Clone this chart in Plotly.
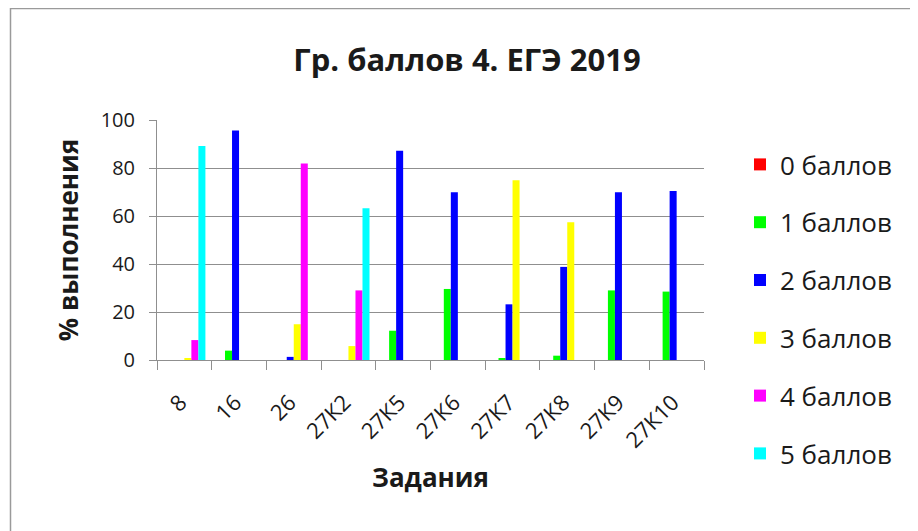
import plotly.graph_objects as go

categories = ["8", "16", "26", "27К2", "27К5", "27К6", "27К7", "27К8", "27К9", "27К10"]
series_names = ["0 баллов", "1 баллов", "2 баллов", "3 баллов", "4 баллов", "5 баллов"]
score0 = [0, 0, 0, 0, 0, 0, 0, 0, 0, 0]
score1 = [0, 3.9, 0, 0, 12.2, 29.6, 0.7, 1.8, 29.0, 28.5]
score2 = [0, 95.6, 1.3, 0, 87.2, 69.9, 23.2, 38.8, 69.9, 70.4]
score3 = [0.7, 0, 14.9, 5.8, 0, 0, 74.9, 57.4, 0, 0]
score4 = [8.3, 0, 81.9, 29.0, 0, 0, 0, 0, 0, 0]
score5 = [89.2, 0, 0, 63.2, 0, 0, 0, 0, 0, 0]
colors = ["#FF0000", "#00FF00", "#0000FF", "#FFFF00", "#FF00FF", "#00FFFF"]
y_ticks = [0, 20, 40, 60, 80, 100]

FONT = "Open Sans"
TXT = "#1a1a1a"
GRID = "#8f8f8f"

fig = go.Figure()
for i, (name, vals) in enumerate(zip(series_names, [score0, score1, score2, score3, score4, score5])):
    fig.add_trace(go.Bar(
        x=categories, y=vals, name=name,
        marker=dict(color=colors[i], line=dict(width=0)),
        legendgroup=f"g{i}",
    ))

# page has an 8px body margin; design coordinates are screen - 8
FW, FH = 910, 523
L, T = 149, 112
W, H = 547, 240
R, B = FW - L - W, FH - T - H

fig.update_layout(
    width=FW, height=FH,
    margin=dict(l=L, r=R, t=T, b=B, pad=0, autoexpand=False),
    paper_bgcolor="white", plot_bgcolor="white",
    barmode="group", bargap=0.23, bargroupgap=0,
    font=dict(family=FONT, color=TXT, size=19),
    title=dict(text="<b>Гр. баллов 4. ЕГЭ 2019</b>", x=(459 - L) / W, xref="paper",
               xanchor="center", y=1 - 52 / FH, yanchor="middle", yref="container",
               font=dict(family=FONT, size=31, color=TXT)),
    showlegend=True,
    legend=dict(x=(732 - L) / W, xanchor="left", y=1 + (T - 133) / H, yanchor="top",
                font=dict(family=FONT, size=26, color=TXT), maxheight=500,
                tracegroupgap=21, itemclick=False, bgcolor="rgba(0,0,0,0)"),
    xaxis=dict(
        type="category", showgrid=False, showline=True, linecolor=GRID, linewidth=1,
        ticks="outside", tickson="boundaries", ticklen=9, tickcolor=GRID, tickwidth=1,
        tickangle=-45, tickfont=dict(family=FONT, size=22, color=TXT),
        ticklabelstandoff=20, ticklabelshift=-4,
        title=dict(text="<b>Задания</b>", font=dict(family=FONT, size=26, color=TXT), standoff=16),
        fixedrange=True,
    ),
    yaxis=dict(
        range=[0, 100], tickvals=y_ticks, showgrid=True, gridcolor=GRID, gridwidth=1,
        showline=True, linecolor=GRID, linewidth=1, zeroline=False,
        ticks="outside", ticklen=7, tickcolor=GRID, tickwidth=1,
        tickfont=dict(family=FONT, size=20, color=TXT), ticklabelstandoff=10,
        title=dict(text="<b>% выполнения</b>", font=dict(family=FONT, size=26, color=TXT), standoff=14),
        fixedrange=True,
    ),
    shapes=[dict(type="rect", xref="paper", yref="paper",
                 x0=(2.5 - L) / W, x1=(930 - L) / W,
                 y0=(T + H - 545) / H, y1=(T + H - 0.5) / H,
                 line=dict(color="#9a9a9a", width=1.5), fillcolor="rgba(0,0,0,0)", layer="below")],
)

fig.write_html("out.html", config={"displayModeBar": False})
